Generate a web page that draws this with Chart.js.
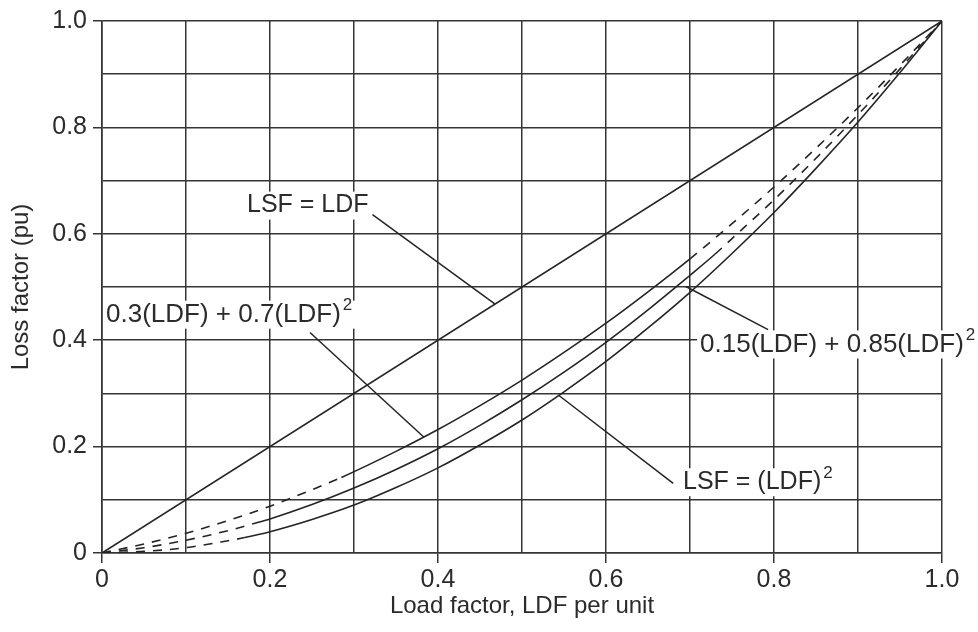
<!DOCTYPE html>
<html>
<head>
<meta charset="utf-8">
<script src="https://cdn.jsdelivr.net/npm/chart.js@4.4.1/dist/chart.umd.min.js"></script>
<style>
  html, body { margin: 0; padding: 0; background: #ffffff; }
  #wrap { width: 978px; height: 632px; }
</style>
</head>
<body>
<div id="wrap"><canvas id="chart" width="978" height="632"></canvas></div>
<script>
// Tick labels shown on both axes (every second gridline carries a label)
const tickLabels = ['0', '0.2', '0.4', '0.6', '0.8', '1.0'];

// LSF = LDF
const xLinear = [0, 1];
const yLinear = [0, 1];

// LSF = 0.3(LDF) + 0.7(LDF)^2
const xMix30 = [0, 0.05, 0.1, 0.15, 0.2, 0.25, 0.285, 0.35, 0.4, 0.45, 0.5, 0.55, 0.6, 0.65, 0.7, 0.75, 0.8, 0.85, 0.9, 0.95, 1];
const yMix30 = [0, 0.017, 0.037, 0.061, 0.088, 0.119, 0.142, 0.191, 0.232, 0.277, 0.325, 0.377, 0.432, 0.491, 0.553, 0.619, 0.688, 0.761, 0.837, 0.917, 1];

// LSF = 0.15(LDF) + 0.85(LDF)^2
const xMix15 = [0, 0.05, 0.1, 0.15, 0.18, 0.2, 0.25, 0.3, 0.35, 0.4, 0.45, 0.5, 0.55, 0.6, 0.65, 0.7, 0.73, 0.75, 0.8, 0.85, 0.9, 0.95, 1];
const yMix15 = [0, 0.010, 0.024, 0.042, 0.055, 0.064, 0.091, 0.122, 0.157, 0.196, 0.240, 0.288, 0.340, 0.396, 0.457, 0.522, 0.562, 0.591, 0.664, 0.742, 0.824, 0.910, 1];

// LSF = (LDF)^2
const xSquare = [0, 0.05, 0.1, 0.15, 0.17, 0.2, 0.25, 0.3, 0.35, 0.4, 0.45, 0.5, 0.55, 0.6, 0.65, 0.7, 0.75, 0.8, 0.85, 0.9, 0.95, 1];
const ySquare = [0, 0.003, 0.010, 0.023, 0.029, 0.040, 0.063, 0.090, 0.123, 0.160, 0.203, 0.250, 0.303, 0.360, 0.423, 0.490, 0.563, 0.640, 0.723, 0.810, 0.903, 1];

// Load-factor range over which each curve is drawn solid (dashed elsewhere)
const solidLinear = [0, 1];
const solidMix30 = [0.285, 0.70];
const solidMix15 = [0.18, 0.73];
const solidSquare = [0.17, 1];

const INK = '#242424';
const GRID = '#353535';
const TEXT = '#2b2b2b';
const FONT = '"Liberation Sans", Arial, Helvetica, sans-serif';
const DASH = [9, 8];

const toPoints = (xs, ys) => xs.map((v, i) => ({ x: v, y: ys[i] }));

function curve(label, xs, ys, span) {
  return {
    label,
    data: toPoints(xs, ys),
    borderColor: INK,
    borderWidth: 1.6,
    pointRadius: 0,
    fill: false,
    cubicInterpolationMode: 'monotone',
    segment: {
      borderDash: c => (c.p0.parsed.x < span[0] - 1e-9 || c.p1.parsed.x > span[1] + 1e-9) ? DASH : undefined
    }
  };
}

// Curve labels with leader lines, placed in data coordinates
const notes = [
  { text: 'LSF = LDF', sup: '', size: 25, at: [0.1726, 0.653], from: [0.322, 0.636], to: [0.468, 0.468] },
  { text: '0.3(LDF) + 0.7(LDF)', sup: '2', size: 26, at: [0.0048, 0.448], from: [0.2476, 0.4146], to: [0.383, 0.218] },
  { text: '0.15(LDF) + 0.85(LDF)', sup: '2', size: 26, at: [0.712, 0.392], from: [0.793, 0.420], to: [0.695, 0.501] },
  { text: 'LSF = (LDF)', sup: '2', size: 25, at: [0.6917, 0.133], from: [0.680, 0.131], to: [0.544, 0.296] }
];

const notePlugin = {
  id: 'curveNotes',
  afterDatasetsDraw(chart) {
    const { ctx, scales: { x, y } } = chart;
    const supFont = '17px ' + FONT;
    ctx.save();
    const boxes = notes.map(n => {
      const px = x.getPixelForValue(n.at[0]);
      const py = y.getPixelForValue(n.at[1]);
      ctx.font = n.size + 'px ' + FONT;
      const w1 = ctx.measureText(n.text).width;
      ctx.font = supFont;
      const w2 = n.sup ? ctx.measureText(n.sup).width + 2 : 0;
      return { n, px, py, w1, w2 };
    });
    // white backing behind each label
    ctx.fillStyle = '#ffffff';
    boxes.forEach(b => ctx.fillRect(b.px - 3, b.py - 14, b.w1 + b.w2 + 6, 28));
    // leader lines
    ctx.strokeStyle = INK;
    ctx.lineWidth = 1.5;
    notes.forEach(n => {
      ctx.beginPath();
      ctx.moveTo(x.getPixelForValue(n.from[0]), y.getPixelForValue(n.from[1]));
      ctx.lineTo(x.getPixelForValue(n.to[0]), y.getPixelForValue(n.to[1]));
      ctx.stroke();
    });
    // label text
    ctx.fillStyle = TEXT;
    ctx.textAlign = 'left';
    ctx.textBaseline = 'middle';
    boxes.forEach(b => {
      ctx.font = b.n.size + 'px ' + FONT;
      ctx.fillText(b.n.text, b.px, b.py);
      if (b.n.sup) {
        ctx.font = supFont;
        ctx.fillText(b.n.sup, b.px + b.w1 + 2, b.py - 9);
      }
    });
    ctx.restore();
  }
};

const majorTick = c => (c.index % 2 === 0 ? GRID : 'rgba(0,0,0,0)');
const tickText = (value, index) => (index % 2 === 0 ? tickLabels[index / 2] : '');

new Chart(document.getElementById('chart'), {
  type: 'line',
  data: {
    datasets: [
      curve('LSF = LDF', xLinear, yLinear, solidLinear),
      curve('0.3(LDF) + 0.7(LDF)²', xMix30, yMix30, solidMix30),
      curve('0.15(LDF) + 0.85(LDF)²', xMix15, yMix15, solidMix15),
      curve('LSF = (LDF)²', xSquare, ySquare, solidSquare)
    ]
  },
  options: {
    responsive: false,
    animation: false,
    devicePixelRatio: 1,
    layout: { padding: { top: 20, right: 36, bottom: 0, left: 0 } },
    plugins: { legend: { display: false }, tooltip: { enabled: false } },
    scales: {
      x: {
        type: 'linear',
        min: 0, max: 1,
        afterFit: s => { s.height = 79; },
        border: { display: true, color: GRID, width: 1.6 },
        grid: { color: GRID, lineWidth: 1.5, tickLength: 10, tickColor: majorTick, tickWidth: 1.5 },
        ticks: {
          stepSize: 0.1, autoSkip: false, maxRotation: 0, padding: 2,
          color: TEXT, font: { family: FONT, size: 25 },
          callback: tickText
        },
        title: {
          display: true, text: 'Load factor, LDF per unit', color: TEXT,
          font: { family: FONT, size: 24 }, padding: { top: 0, bottom: 11 }
        }
      },
      y: {
        type: 'linear',
        min: 0, max: 1,
        afterFit: s => { s.width = 102; },
        border: { display: true, color: GRID, width: 1.6 },
        grid: { color: GRID, lineWidth: 1.5, tickLength: 9, tickColor: majorTick, tickWidth: 1.5 },
        ticks: {
          stepSize: 0.1, autoSkip: false, padding: 6,
          color: TEXT, font: { family: FONT, size: 25 },
          callback: tickText
        },
        title: {
          display: true, text: 'Loss factor (pu)', color: TEXT,
          font: { family: FONT, size: 24 }, padding: { top: 7, bottom: 0 }
        }
      }
    }
  },
  plugins: [notePlugin]
});
</script>
</body>
</html>
